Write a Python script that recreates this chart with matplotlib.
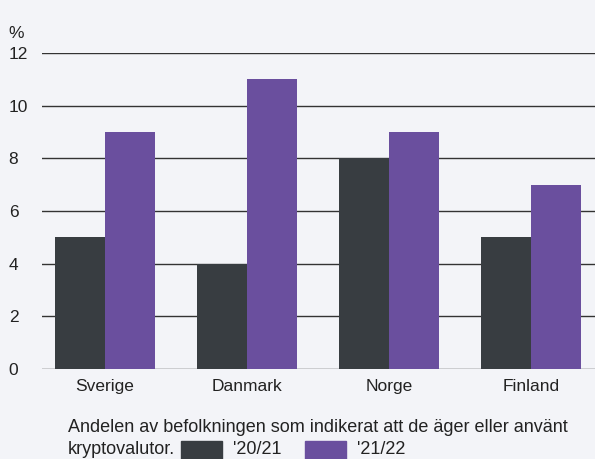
import numpy as np
import matplotlib.pyplot as plt
from matplotlib.patches import Rectangle

plt.rcParams['font.family'] = ['Liberation Sans', 'DejaVu Sans']

countries = ['Sverige', 'Danmark', 'Norge', 'Finland']
vals_2021 = [5, 4, 8, 5]
vals_2122 = [9, 11, 9, 7]
series_labels = ["'20/21", "'21/22"]
yticks = [0, 2, 4, 6, 8, 10, 12]

bg = '#f3f4f8'
dark = '#383d41'
purple = '#6a4f9e'
txt = '#222222'
fs = 12.5

fig = plt.figure(figsize=(5.95, 4.59), dpi=100, facecolor=bg)
ax = fig.add_axes([0.0706, 0.196, 0.9294, 0.6885], facecolor=bg)

x = np.arange(len(countries))
w = 0.35
ax.bar(x - w / 2, vals_2021, w, color=dark, zorder=3)
ax.bar(x + w / 2, vals_2122, w, color=purple, zorder=3)

ax.set_xlim(-0.444, 3.45)
ax.set_ylim(0, 12)
ax.set_yticks(yticks)
ax.grid(axis='y', color='#333333', linewidth=1, zorder=0)
for s in ax.spines.values():
    s.set_visible(False)
ax.tick_params(axis='both', length=0, labelsize=fs, labelcolor=txt)
ax.tick_params(axis='y', pad=24)
for lbl in ax.get_yticklabels():
    lbl.set_horizontalalignment('left')
ax.set_xticks(x)
ax.set_xticklabels(countries)
ax.tick_params(axis='x', pad=7)

fig.text(8 / 595, 1 - 33 / 459, '%', fontsize=fs, color=txt, va='center', ha='left')

fig.text(68 / 595, 1 - 427 / 459, 'Andelen av befolkningen som indikerat att de äger eller använt',
         fontsize=13, color=txt, va='center', ha='left')
fig.text(68 / 595, 1 - 449 / 459, 'kryptovalutor.', fontsize=13, color=txt, va='center', ha='left')

# legend boxes
for x0, col, lab in [(181, dark, series_labels[0]), (305, purple, series_labels[1])]:
    fig.patches.append(Rectangle((x0 / 595, 0), 41 / 595, 18 / 459,
                                 transform=fig.transFigure, color=col))
    fig.text((x0 + 52) / 595, 1 - 449 / 459, lab, fontsize=13, color=txt,
             va='center', ha='left')

fig.savefig('out.png', dpi=100, facecolor=bg)
